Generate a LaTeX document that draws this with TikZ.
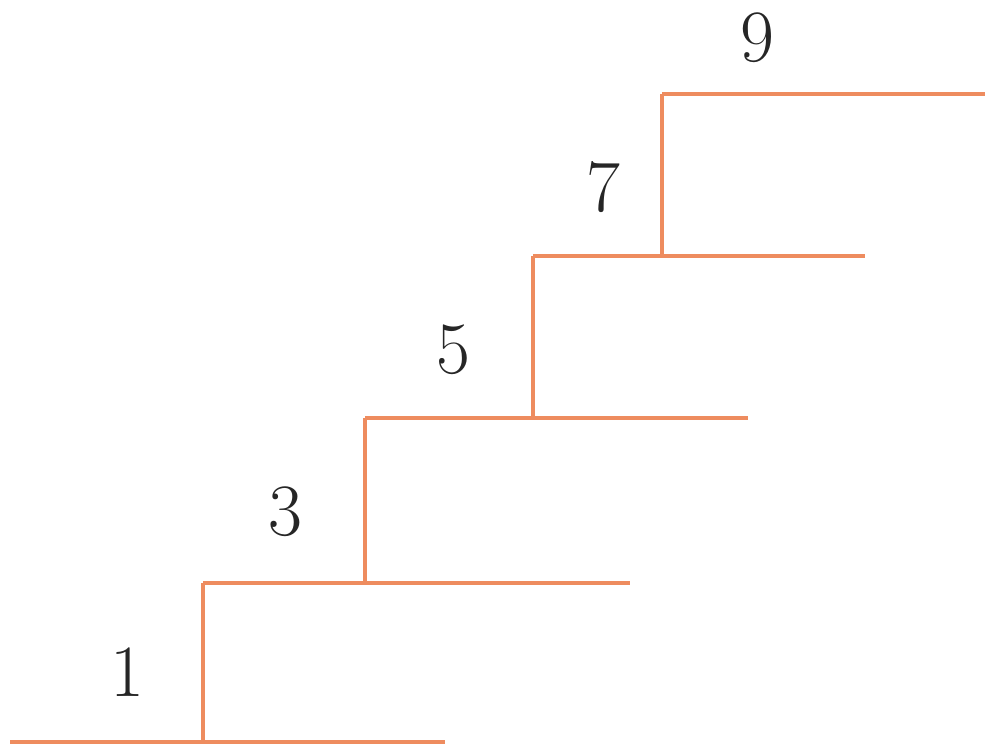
\documentclass[tikz,border=0pt]{standalone}
\usepackage{tikz}
\usepackage{xcolor}
\definecolor{stairorange}{RGB}{238,140,95}

\begin{document}
\begin{tikzpicture}[x=0.02cm, y=-0.02cm,
  stair/.style={line width=2.6pt, stairorange},
  stepnum/.style={font=\fontsize{42}{48}\selectfont, text=black!85}]
  \useasboundingbox (0,0) rectangle (987,746);
  % Step corners
  \coordinate (c1) at (203,742);
  \coordinate (c2) at (365,583);
  \coordinate (c3) at (533,418);
  \coordinate (c4) at (662,256);
  \coordinate (c5) at (662,94);
  % Treads
  \draw[stair] (10,742) -- (445,742);
  \draw[stair] (c1 |- c2) -- (630,583);
  \draw[stair] (c2 |- c3) -- (748,418);
  \draw[stair] (c3 |- c4) -- (865,256);
  \draw[stair] (c5) -- (985,94);
  % Risers
  \draw[stair] (c1) -- (c1 |- c2);
  \draw[stair] (c2) -- (c2 |- c3);
  \draw[stair] (c3) -- (c3 |- c4);
  \draw[stair] (c4) -- (c5);
  % Step numbers
  \node[stepnum] (n1) at (127,672) {1};
  \node[stepnum] (n3) at (285,512) {3};
  \node[stepnum] (n5) at (453,350) {5};
  \node[stepnum] (n7) at (603,187) {7};
  \node[stepnum] (n9) at (757,38) {9};
\end{tikzpicture}
\end{document}
